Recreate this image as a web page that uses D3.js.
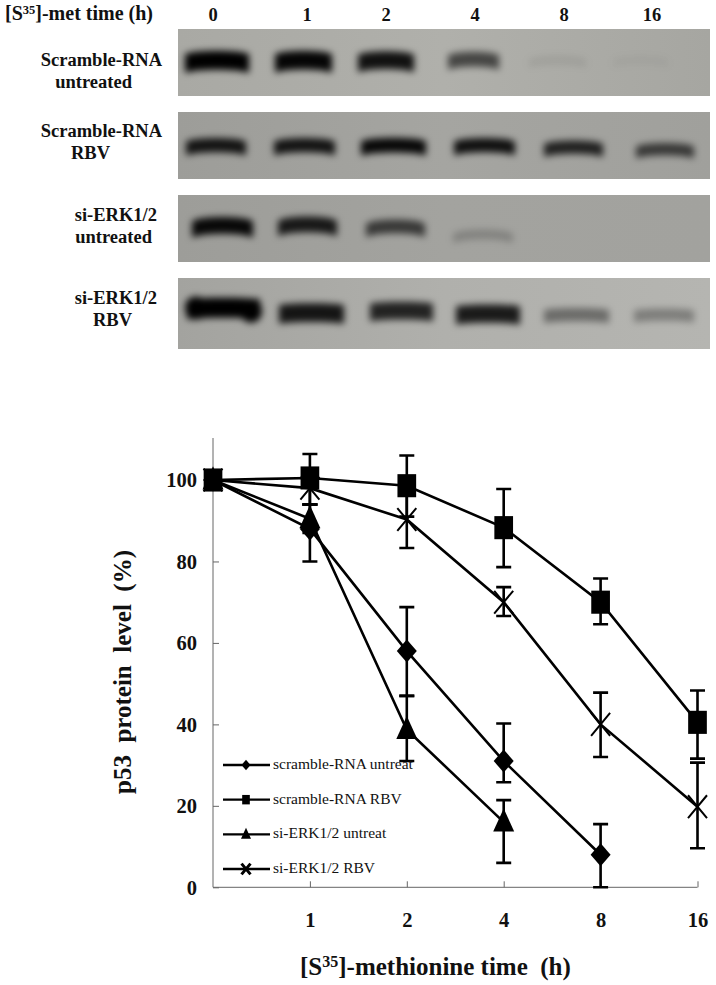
<!DOCTYPE html>
<html><head><meta charset="utf-8"><script src="https://cdn.jsdelivr.net/npm/d3@7"></script>
<style>html,body{margin:0;background:#fff}svg{display:block}text{font-family:"Liberation Serif",serif;font-weight:bold;fill:#111}</style></head>
<body><div id="c"></div><script>
// ---- data ----
const timeLabels=["0","1","2","4","8","16"];
const blotLabels=[["Scramble-RNA","untreated"],["Scramble-RNA","RBV"],["si-ERK1/2","untreated"],["si-ERK1/2","RBV"]];
const scrambleUntreatBands=[1,.97,.9,.6,.07,.04];
const scrambleRbvBands=[.88,.88,.95,.9,.8,.65];
const siErkUntreatBands=[.95,.85,.65,.2,0,0];
const siErkRbvBands=[1,.88,.8,.85,.4,.3];
const xCats=["0","1","2","4","8","16"];
const yTicks=[0,20,40,60,80,100];
const scrUntreat=[100,88,58,31,8,null], scrUntreatHi=[100,94,68.8,40.2,15.5,null], scrUntreatLo=[100,80,47,25.8,0,null];
const scrRbv=[100,100.5,98.6,88.3,70,40.5], scrRbvHi=[100,106.4,106,97.8,75.8,48.3], scrRbvLo=[100,94,91,78.6,64.6,31.6];
const siUntreat=[100,90.5,38.7,16,null,null], siUntreatHi=[100,94,47,21.4,null,null], siUntreatLo=[100,87,31,6,null,null];
const siRbv=[100,98,90.3,70,40,19.8], siRbvHi=[100,102,98,73.7,47.8,30.6], siRbvLo=[100,94,83.3,66.6,32,9.6];
const legendNames=["scramble-RNA untreat","scramble-RNA RBV","si-ERK1/2 untreat","si-ERK1/2 RBV"];
// ---- layout ----
const W=716,H=985;
const svg=d3.select("#c").append("svg").attr("width",W).attr("height",H);
const defs=svg.append("defs");
defs.append("filter").attr("id","b").attr("filterUnits","userSpaceOnUse").attr("x",150).attr("y",0).attr("width",566).attr("height",380).append("feGaussianBlur").attr("stdDeviation",3.6);
const panels=[
 {y:29,h:67,vals:scrambleUntreatBands,bg:["#a9a9a4","#b0b0ab","#a6a6a1"],cy:[61,61,61,60,61,61],th:19,lanes:[[185,249],[275,332],[358,414],[448,499],[529,586],[613,668]],arc:2},
 {y:112,h:67,vals:scrambleRbvBands,bg:["#9d9d99","#a5a5a1","#a0a09c"],cy:[146,146,146,146,148,150],th:15,lanes:[[186,246],[274,335],[361,426],[454,515],[544,603],[636,694]],arc:2},
 {y:195,h:67,vals:siErkUntreatBands,bg:["#9d9d99","#a3a39f","#a2a29e"],cy:[227,226,228,236,0,0],th:17,lanes:[[192,253],[278,337],[366,425],[453,513],[540,600],[630,690]],arc:3},
 {y:278,h:71,vals:siErkRbvBands,bg:["#a3a39f","#b0b0ac","#b5b5b1"],cy:[307,312,310,313,314,314],th:20,lanes:[[187,260],[279,344],[370,433],[456,520],[544,609],[634,694]],arc:0}];
const gelX=d3.scaleLinear().domain([0,1]).range([178,710]);
const dark=d3.scaleLinear().domain([0,1]).range([0,1]);
const labelX=[[162,132],[162,110],[157,152],[157,132]], labelY=[[66,88],[137,159],[221,243],[304,326]];
panels.forEach((p,i)=>{
  const gid="g"+i, lg=defs.append("linearGradient").attr("id",gid);
  p.bg.forEach((c,k)=>lg.append("stop").attr("offset",k/(p.bg.length-1)).attr("stop-color",c));
  defs.append("clipPath").attr("id","cp"+i).append("rect").attr("x",gelX(0)).attr("y",p.y).attr("width",gelX(1)-gelX(0)).attr("height",p.h);
  svg.append("rect").attr("x",gelX(0)).attr("y",p.y).attr("width",gelX(1)-gelX(0)).attr("height",p.h).attr("fill",`url(#${gid})`);
  const g=svg.append("g").attr("clip-path",`url(#cp${i})`).append("g").attr("filter","url(#b)");
  p.vals.forEach((v,j)=>{
    if(v<=0) return;
    const [a,b]=p.lanes[j], th=p.th*(.45+.55*v), cy=p.cy[j];
    const t=cy-th/2,bt=cy+th/2,d=2.5;
    g.append("path").attr("fill","#060606").attr("opacity",dark(v))
     .attr("d",`M${a},${t+d}C${a+10},${t-p.arc} ${b-10},${t-p.arc} ${b},${t+d}V${bt+d}C${b-10},${bt-p.arc} ${a+10},${bt-p.arc} ${a},${bt+d}Z`);
    if(i==3&&j==0){
      [a+9,b-9].forEach(ex=>g.append("ellipse").attr("cx",ex).attr("cy",cy+(ex>a+20?4:1)).attr("rx",11).attr("ry",11.5).attr("fill","#000"));
    }
  });
  blotLabels[i].forEach((t,k)=>{
    svg.append("text").attr("x",labelX[i][k]).attr("y",labelY[i][k]).attr("text-anchor","end").attr("font-size",18.5).text(t);
  });
});
// header
const hdr=svg.append("text").attr("x",5).attr("y",20).attr("font-size",20);
hdr.append("tspan").text("[S");hdr.append("tspan").attr("font-size",12.5).attr("dy",-6).text("35");
hdr.append("tspan").attr("dy",6).text("]-met time (h)");
const hdrX=[213,307,386,475,564,652];
timeLabels.forEach((t,i)=>svg.append("text").attr("x",hdrX[i]).attr("y",21).attr("text-anchor","middle").attr("font-size",18.5).text(t));
// chart
const x=d3.scalePoint().domain(xCats).range([213,697.5]);
const y=d3.scaleLinear().domain([0,100]).range([887.3,480]);
const axisColor="#666";
const gy=svg.append("g").attr("transform","translate(213,0)").call(d3.axisLeft(y).tickValues(yTicks).tickSize(6).tickPadding(7));
gy.select(".domain").remove();
gy.selectAll(".tick line").attr("x1",0).attr("x2",6).attr("stroke",axisColor);
gy.selectAll("text").attr("font-size",20.5).attr("fill","#111").attr("font-family","Liberation Serif").attr("x",-16).attr("dy",".33em");
svg.append("line").attr("x1",213).attr("x2",213).attr("y1",438).attr("y2",887.3).attr("stroke",axisColor);
const gx=svg.append("g").attr("transform","translate(0,887.3)").call(d3.axisBottom(x).tickValues(xCats.slice(1)).tickSize(-6).tickPadding(18));
gx.select(".domain").remove();
gx.selectAll(".tick line").attr("stroke",axisColor);
gx.selectAll("text").attr("font-size",20.5).attr("fill","#111").attr("font-family","Liberation Serif").attr("y",33).attr("dy",".33em");
svg.append("line").attr("x1",213).attr("x2",697.5).attr("y1",887.3).attr("y2",887.3).attr("stroke",axisColor);
// symbols
function marker(g,kind,px,py,s){
  const n=g.append("path").attr("transform",`translate(${px},${py})`).attr("fill","#000").attr("stroke","none");
  const a=s;
  if(kind=="diamond") n.attr("d",`M0,${-a*1.15}L${a},0L0,${a*1.15}L${-a},0Z`);
  if(kind=="square") n.attr("d",`M${-a*.85},${-a*1.05}H${a*.85}V${a*1.05}H${-a*.85}Z`);
  if(kind=="triangle") n.attr("d",`M0,${-a*1.3}L${a},${a*.9}H${-a}Z`);
  if(kind=="x") n.attr("fill","none").attr("stroke","#000").attr("stroke-width",a>6?2:3).attr("d",`M${-a},${-a*1.2}L${a},${a*1.2}M${a},${-a*1.2}L${-a},${a*1.2}`);
}
const series=[
 {k:"diamond",v:scrUntreat,hi:scrUntreatHi,lo:scrUntreatLo,s:10},
 {k:"square",v:scrRbv,hi:scrRbvHi,lo:scrRbvLo,s:11},
 {k:"triangle",v:siUntreat,hi:siUntreatHi,lo:siUntreatLo,s:10.5},
 {k:"x",v:siRbv,hi:siRbvHi,lo:siRbvLo,s:9.5}];
const chart=svg.append("g");
const line=d3.line().defined(d=>d[1]!=null).x(d=>x(d[0])).y(d=>y(d[1]));
[3,0,2,1].map(i=>series[i]).forEach(S=>{
  chart.append("path").attr("fill","none").attr("stroke","#000").attr("stroke-width",2.6).attr("d",line(xCats.map((c,i)=>[c,S.v[i]])));
  xCats.forEach((c,i)=>{
    if(S.v[i]==null) return;
    if(i>0){
      const px=x(c);
      chart.append("path").attr("fill","none").attr("stroke","#000").attr("stroke-width",2.6)
       .attr("d",`M${px},${y(S.hi[i])}V${y(S.lo[i])}M${px-7.5},${y(S.hi[i])}H${px+7.5}M${px-7.5},${y(S.lo[i])}H${px+7.5}`);
    }
    marker(chart,S.k,x(c),y(S.v[i]),S.s);
  });
});
// legend
const legY=d3.scalePoint().domain(legendNames).range([765,869]);
legendNames.forEach((n,i)=>{
  const yy=legY(n), g=svg.append("g");
  g.append("line").attr("x1",223).attr("x2",270).attr("y1",yy).attr("y2",yy).attr("stroke","#000").attr("stroke-width",2.4);
  marker(g,series[i].k,246,yy,i==2?5:4.5);
  g.append("text").attr("x",273).attr("y",yy+4).attr("font-size",15.5).style("font-weight","normal").attr("fill","#222").text(n);
});
// titles
svg.append("text").attr("transform","translate(131,672) rotate(-90)").attr("text-anchor","middle").attr("font-size",25).style("white-space","pre").text("p53  protein  level  (%)");
const xt=svg.append("text").attr("x",300).attr("y",975).attr("font-size",25).style("white-space","pre");
xt.append("tspan").text("[S");xt.append("tspan").attr("font-size",16).attr("dy",-8).text("35");
xt.append("tspan").attr("dy",8).text("]-methionine time  (h)");
</script></body></html>
